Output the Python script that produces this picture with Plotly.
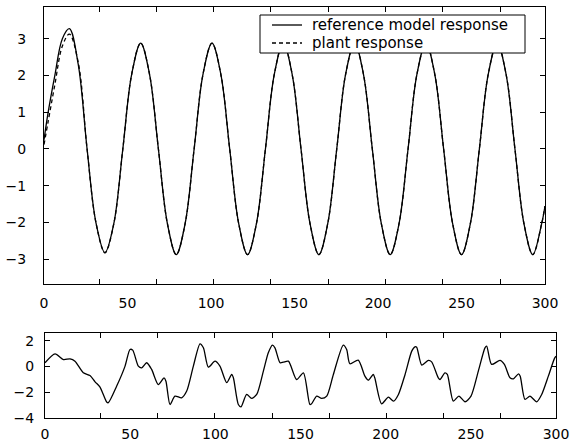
import plotly.graph_objects as go

# ---------------- data ----------------
t_top = [0, 2.5, 6.5, 11, 15.2, 20.5, 25.8, 31.1, 36.5, 41.8, 47.2, 52.5, 57.9,
         63.2, 68.5, 73.9, 79.2, 84.5, 89.9, 95.2, 100.6, 105.9, 111.2, 116.6,
         121.9, 127.2, 132.6, 137.9, 143.3, 148.6, 153.9, 159.3, 164.6, 169.9,
         175.3, 180.6, 186.0, 191.3, 196.6, 202.0, 207.3, 212.6, 218.0, 223.3,
         228.7, 234.0, 239.3, 244.7, 250.0, 255.3, 260.7, 266.0, 271.4, 276.7,
         282.0, 287.4, 292.7, 298.0, 300]

reference_model = [0.25, 1.0, 2.0, 3.0, 3.27, 2.3, 0.0, -2.0, -2.82, -2.03, 0.0, 2.03, 2.88,
                   2.03, 0.0, -2.03, -2.87, -2.03, 0.0, 2.03, 2.88, 2.03, 0.0, -2.03,
                   -2.87, -2.03, 0.0, 2.03, 2.88, 2.03, 0.0, -2.03, -2.87, -2.03,
                   0.0, 2.03, 2.88, 2.03, 0.0, -2.03, -2.87, -2.03, 0.0, 2.03,
                   2.88, 2.03, 0.0, -2.03, -2.87, -2.03, 0.0, 2.03, 2.88, 2.03,
                   0.0, -2.03, -2.87, -2.03, -1.55]

plant = [0.12, 0.75, 1.75, 2.8, 3.12, 2.35, 0.0, -2.0, -2.82, -2.03, 0.0, 2.03, 2.88,
         2.03, 0.0, -2.03, -2.87, -2.03, 0.0, 2.03, 2.88, 2.03, 0.0, -2.03,
         -2.87, -2.03, 0.0, 2.03, 2.88, 2.03, 0.0, -2.03, -2.87, -2.03,
         0.0, 2.03, 2.88, 2.03, 0.0, -2.03, -2.87, -2.03, 0.0, 2.03,
         2.88, 2.03, 0.0, -2.03, -2.87, -2.03, 0.0, 2.03, 2.88, 2.03,
         0.0, -2.03, -2.87, -2.03, -1.55]

t_bot = [0, 5.9, 10.8, 14.7, 17.6, 22.5, 26.4, 29.4, 32.3, 36.2, 37.2, 42.1, 47.0,
         49.9, 51.5, 54.8, 56.8, 59.7, 62.6, 66.5, 69.9, 71.0, 73.4, 76.3, 80.2,
         83.2, 87.1, 91.0, 93.0, 95.9, 99.8, 102.7, 106.7, 109.6, 110.6, 113.5,
         115.1, 118.4, 121.3, 124.3, 128.2, 131.1, 133.5, 135.0, 138.0, 139.9,
         142.9, 147.7, 151.7, 155.5, 156.5, 159.5, 162.4, 165.4, 169.3, 175.1,
         177.1, 179.0, 183.9, 187.8, 189.8, 192.7, 193.6, 197.6, 201.6, 204.6,
         207.5, 211.4, 215.3, 217.2, 218.2, 221.2, 225.1, 227.0, 230.9, 231.9,
         234.8, 236.2, 239.7, 243.0, 246.6, 250.1, 254.4, 258.3, 259.3, 262.2,
         267.1, 269.7, 273.0, 275.0, 278.0, 279.0, 281.8, 284.7, 288.7, 291.6,
         295.5, 299.0, 300.0]

control = [0.29, 0.98, 0.54, 0.59, 0.41, -0.49, -0.70, -1.19, -1.60, -2.76, -2.81, -1.52, 0.03,
           1.32, 1.27, 0.03, -0.10, 0.29, -0.23, -1.40, -0.88, -1.14, -2.95, -2.30, -2.43,
           -1.91, 0.03, 1.76, 1.45, -0.05, 0.41, 0.03, -1.26, -0.62, -0.88, -2.95,
           -3.13, -2.17, -2.48, -2.17, -0.36, 1.06, 1.66, 1.45, 0.29, 0.33,
           0.41, -1.01, -0.49, -2.95, -2.90, -2.30, -2.48, -2.30, -0.62, 1.66,
           1.32, 0.21, 0.49, -0.75, -1.06, -0.62, -0.88, -2.90, -2.38, -2.69,
           -2.17, -0.62, 1.19, 1.53, 1.50, 0.11, 0.47, 0.36, -0.88, -1.01,
           -0.49, -0.62, -2.69, -2.30, -2.74, -2.30, -0.36, 1.45, 1.58, 0.16,
           0.47, 0.16, -0.88, -0.96, -0.57, -0.75, -2.56, -2.30, -2.74, -2.17,
           -0.75, 0.59, 0.80]

x_labels = [0, 50, 100, 150, 200, 250, 300]
top_tick_marks = [33.0, 67.3, 101.6, 135.9, 170.2, 204.5, 238.8, 273.1]
bot_tick_marks = [32.5, 66.1, 99.7, 133.3, 166.9, 200.5, 234.1, 267.7]
top_y_ticks = [-3, -2, -1, 0, 1, 2, 3]
bot_y_ticks = [-4, -2, 0, 2]
legend_names = ["reference model response", "plant response"]

# ---------------- figure ----------------
W, H = 576, 444
FONT = "DejaVu Sans"
LW = 1.3

fig = go.Figure()
fig.add_trace(go.Scatter(x=t_top, y=reference_model, mode="lines",
                         name=legend_names[0], showlegend=False,
                         line=dict(color="black", width=LW, shape="spline", smoothing=1.0),
                         xaxis="x", yaxis="y"))
fig.add_trace(go.Scatter(x=t_top, y=plant, mode="lines",
                         name=legend_names[1], showlegend=False,
                         line=dict(color="black", width=LW, dash="4px,3px",
                                   shape="spline", smoothing=1.0),
                         xaxis="x", yaxis="y"))
fig.add_trace(go.Scatter(x=t_bot, y=control, mode="lines", showlegend=False,
                         line=dict(color="black", width=LW, shape="spline", smoothing=0.7),
                         xaxis="x2", yaxis="y2"))
# invisible carriers so the label axes get drawn
fig.add_trace(go.Scatter(x=[x_labels[0], x_labels[-1]], y=[0, 0], mode="markers",
                         marker=dict(opacity=0, size=1), showlegend=False,
                         hoverinfo="skip", xaxis="x3", yaxis="y"))
fig.add_trace(go.Scatter(x=[x_labels[0], x_labels[-1]], y=[0, 0], mode="markers",
                         marker=dict(opacity=0, size=1), showlegend=False,
                         hoverinfo="skip", xaxis="x4", yaxis="y2"))


def px_x(p):
    return p / W


def px_y(p):
    return (H - p) / H


tickfont = dict(family=FONT, size=14, color="black")

mark_axis = dict(showgrid=False, zeroline=False, showline=True, linecolor="black",
                 linewidth=1, mirror="ticks", ticks="inside", ticklen=5,
                 tickcolor="black", tickwidth=1, showticklabels=False)
label_axis = dict(showgrid=False, zeroline=False, showline=False, ticks="",
                  showticklabels=True, tickfont=tickfont)

# legend box (drawn as a framed key over the top panel)
shapes = [
    dict(type="rect", xref="paper", yref="paper", layer="above",
         x0=px_x(260), x1=px_x(525), y0=px_y(53), y1=px_y(15),
         line=dict(color="black", width=1), fillcolor="white"),
    dict(type="line", xref="paper", yref="paper", layer="above",
         x0=px_x(272), x1=px_x(302), y0=px_y(25), y1=px_y(25),
         line=dict(color="black", width=LW)),
    dict(type="line", xref="paper", yref="paper", layer="above",
         x0=px_x(272), x1=px_x(302), y0=px_y(43), y1=px_y(43),
         line=dict(color="black", width=LW, dash="4px,3px")),
]
annotations = [
    dict(xref="paper", yref="paper", x=px_x(310), y=px_y(25), text=legend_names[0],
         xanchor="left", yanchor="middle", showarrow=False,
         font=dict(family=FONT, size=15, color="black")),
    dict(xref="paper", yref="paper", x=px_x(310), y=px_y(43), text=legend_names[1],
         xanchor="left", yanchor="middle", showarrow=False,
         font=dict(family=FONT, size=15, color="black")),
]

fig.update_layout(
    width=W, height=H,
    template="none",
    paper_bgcolor="white", plot_bgcolor="white",
    margin=dict(l=0, r=0, t=0, b=0, pad=0, autoexpand=False),
    font=dict(family=FONT, size=14, color="black"),
    xaxis=dict(mark_axis, domain=[px_x(44), px_x(545)], range=[0, 300],
               tickvals=top_tick_marks, anchor="y"),
    yaxis=dict(showgrid=False, zeroline=False, showline=True, linecolor="black",
               linewidth=1, mirror="ticks", ticks="inside", ticklen=5,
               tickcolor="black", domain=[px_y(284), px_y(7)], range=[-3.67, 3.86],
               tickvals=top_y_ticks, tickfont=tickfont, ticklabelstandoff=14,
               anchor="x"),
    xaxis3=dict(label_axis, overlaying="x", anchor="y", range=[0, 300],
                tickvals=x_labels, ticklabelstandoff=9),
    xaxis2=dict(mark_axis, domain=[px_x(45), px_x(556)], range=[0, 300],
                tickvals=bot_tick_marks, anchor="y2"),
    yaxis2=dict(showgrid=False, zeroline=False, showline=True, linecolor="black",
                linewidth=1, mirror="ticks", ticks="inside", ticklen=5,
                tickcolor="black", domain=[px_y(418), px_y(333)], range=[-4, 2.6],
                tickvals=bot_y_ticks, tickfont=tickfont, ticklabelstandoff=7,
                anchor="x2"),
    xaxis4=dict(label_axis, overlaying="x2", anchor="y2", range=[0, 300],
                tickvals=x_labels, ticklabelstandoff=6),
    showlegend=False,
    shapes=shapes,
    annotations=annotations,
)

fig.write_html("out.html", config={"displayModeBar": False},
               post_script="document.body.style.margin='0px';")
